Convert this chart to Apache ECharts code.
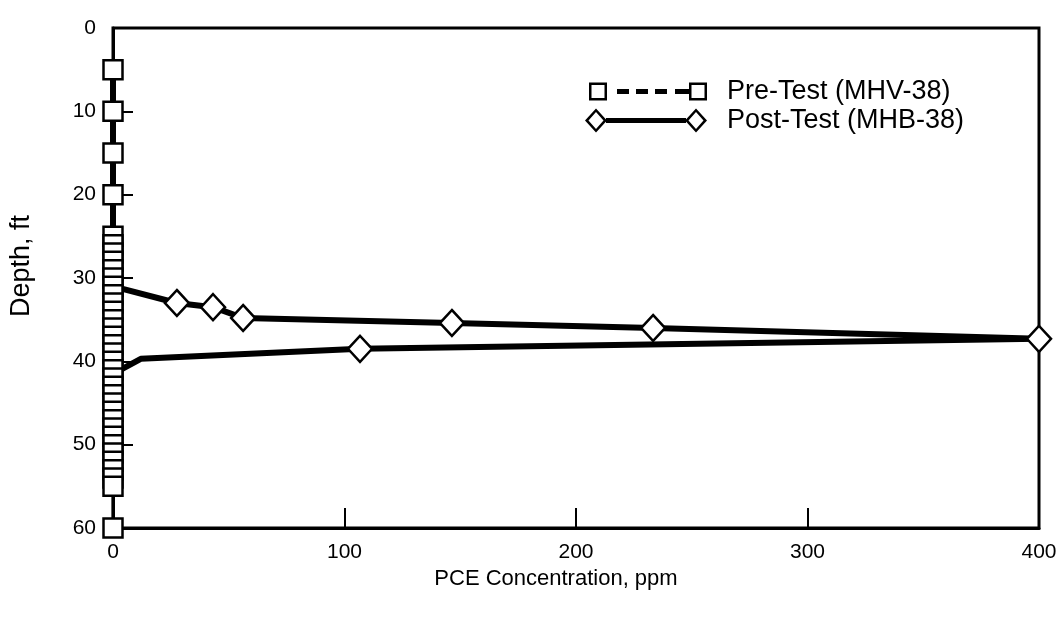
<!DOCTYPE html>
<html><head><meta charset="utf-8">
<script src="https://cdn.jsdelivr.net/npm/echarts@6/dist/echarts.min.js"></script>
<style>html,body{margin:0;padding:0;background:#fff}#c{width:1062px;height:622px}</style>
</head><body><div id="c"></div>
<script>
// ---- data ----
const seriesNames = ['Pre-Test (MHV-38)', 'Post-Test (MHB-38)'];
const xTickValues = [0, 100, 200, 300, 400];
const yTickValues = [0, 10, 20, 30, 40, 50, 60];
const xAxisTitle = 'PCE Concentration, ppm';
const yAxisTitle = 'Depth, ft';

const preDepth = [5, 10, 15, 20, 25, 26, 27, 28, 29, 30, 31, 32, 33, 34, 35, 36, 37, 38, 39, 40,
                  41, 42, 43, 44, 45, 46, 47, 48, 49, 50, 51, 52, 53, 54, 55, 60];
const preConc  = [0, 0, 0, 0, 0, 0, 0, 0, 0, 0, 0, 0, 0, 0, 0, 0, 0, 0, 0, 0,
                  0, 0, 0, 0, 0, 0, 0, 0, 0, 0, 0, 0, 0, 0, 0, 0];

const postDepth  = [5, 31, 33.0, 33.5, 34.8, 35.4, 36.0, 37.3, 38.5, 39.7, 41.5, 55];
const postConc   = [0, 0, 27.6, 43.2, 56.2, 146.4, 233.3, 400, 106.7, 12, 0, 0];
const postMarked = [false, false, true, true, true, true, true, true, true, false, false, false];

// ---- chart ----
const FONT = '"Liberation Sans", Arial, Helvetica, sans-serif';
const chart = echarts.init(document.getElementById('c'), null, {renderer: 'canvas'});

const preIcon = 'path://M0 0 L18 0 L18 18 L0 18 Z M2.5 2.5 L2.5 15.5 L15.5 15.5 L15.5 2.5 Z ' +
  'M100 0 L118 0 L118 18 L100 18 Z M102.5 2.5 L102.5 15.5 L115.5 15.5 L115.5 2.5 Z ' +
  'M28 6.5 L40 6.5 L40 11.5 L28 11.5 Z M47 6.5 L59 6.5 L59 11.5 L47 11.5 Z M66 6.5 L78 6.5 L78 11.5 L66 11.5 Z ' +
  'M86 6.5 L100 6.5 L100 11.5 L86 11.5 Z M133 9 L133 9 Z';
const postIcon = 'path://M0 12 L11 0 L22 12 L11 24 Z M3.5 12 L11 20.5 L18.5 12 L11 3.5 Z ' +
  'M21 9.5 L101 9.5 L101 14.5 L21 14.5 Z ' +
  'M100 12 L111 0 L122 12 L111 24 Z M103.5 12 L111 20.5 L118.5 12 L111 3.5 Z M137 12 L137 12 Z';

const iconStyle = {color: '#000', borderColor: 'rgba(0,0,0,0)', borderWidth: 0};
const legendText = {color: '#000', fontSize: 27, fontFamily: FONT};

const option = {
  animation: false,
  backgroundColor: '#fff',
  grid: {left: 113, right: 23, top: 28, bottom: 94, show: true, borderColor: '#000', borderWidth: 3},
  legend: [
    {data: [{name: seriesNames[0], icon: preIcon, itemStyle: iconStyle}],
     left: 589, top: 78, padding: 0, itemWidth: 133, itemHeight: 18,
     selectedMode: false, textStyle: legendText},
    {data: [{name: seriesNames[1], icon: postIcon, itemStyle: iconStyle}],
     left: 585, top: 107, padding: 0, itemWidth: 137, itemHeight: 24,
     selectedMode: false, textStyle: legendText}
  ],
  xAxis: {
    type: 'value',
    min: xTickValues[0], max: xTickValues[xTickValues.length - 1],
    interval: xTickValues[1] - xTickValues[0],
    name: xAxisTitle, nameLocation: 'middle', nameGap: 40,
    nameTextStyle: {color: '#000', fontSize: 22, fontFamily: FONT, padding: [0, 40, 0, 0]},
    axisLine: {show: true, onZero: false, lineStyle: {color: '#000', width: 3}},
    axisTick: {show: true, inside: true, length: 20, lineStyle: {color: '#000', width: 2}},
    axisLabel: {color: '#000', fontSize: 21, fontFamily: FONT, margin: 14},
    splitLine: {show: false}
  },
  yAxis: {
    type: 'value', inverse: true,
    min: yTickValues[0], max: yTickValues[yTickValues.length - 1],
    interval: yTickValues[1] - yTickValues[0],
    name: yAxisTitle, nameLocation: 'middle', nameGap: 78,
    nameTextStyle: {color: '#000', fontSize: 27, fontFamily: FONT, padding: [0, 0, 0, 24]},
    axisLine: {show: true, onZero: false, lineStyle: {color: '#000', width: 3}},
    axisTick: {show: true, inside: true, length: 20, lineStyle: {color: '#000', width: 2}},
    axisLabel: {color: '#000', fontSize: 21, fontFamily: FONT, margin: 17},
    splitLine: {show: false}
  },
  series: [
    {
      name: seriesNames[1], type: 'line', z: 2, clip: false,
      data: postDepth.map((d, i) => ({value: [postConc[i], d], symbol: postMarked[i] ? 'diamond' : 'none'})),
      symbol: 'diamond', symbolSize: [24, 26], showAllSymbol: true,
      lineStyle: {color: '#000', width: 6},
      itemStyle: {color: '#fff', borderColor: '#000', borderWidth: 2.5},
      emphasis: {disabled: true}
    },
    {
      name: seriesNames[0], type: 'line', z: 3, clip: false,
      data: preDepth.map((d, i) => [preConc[i], d]),
      symbol: 'rect', symbolSize: 19, showAllSymbol: true,
      lineStyle: {color: '#000', width: 2.5},
      itemStyle: {color: '#fff', borderColor: '#000', borderWidth: 2.5},
      emphasis: {disabled: true}
    }
  ]
};
chart.setOption(option);
</script>
</body></html>
